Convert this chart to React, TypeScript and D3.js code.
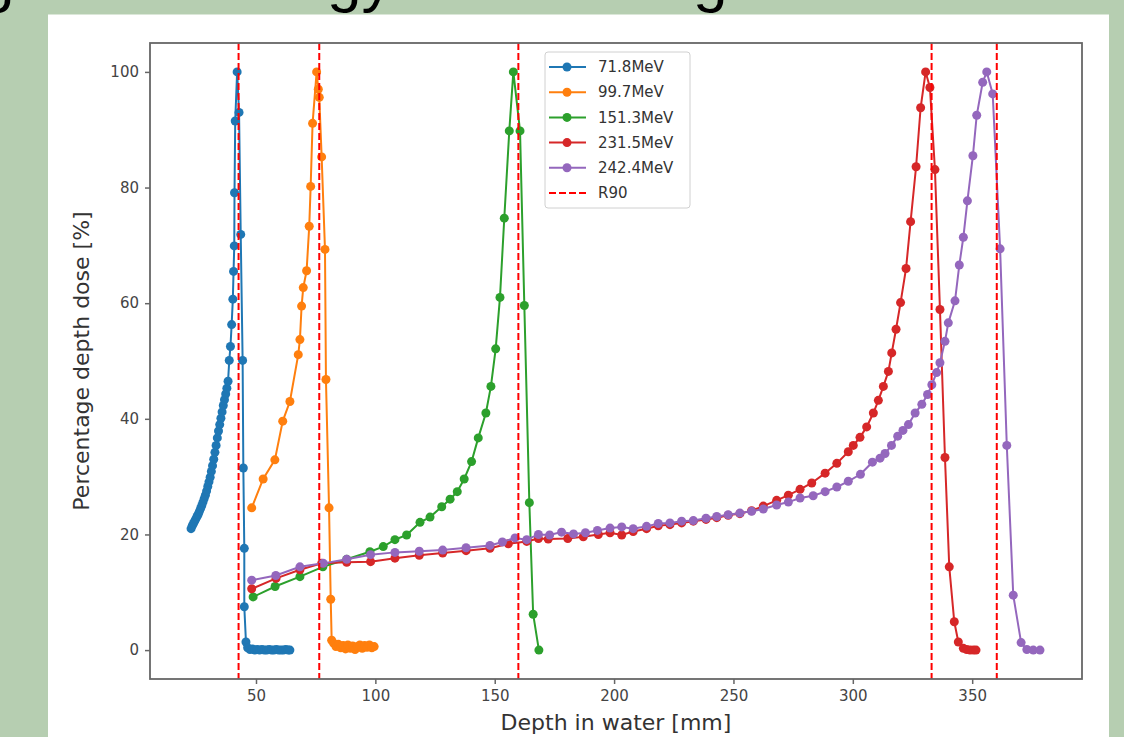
import React, {useEffect, useRef} from 'react'
import * as d3 from 'd3';

// depth [mm] / percentage depth dose [%]
const blueDepth = [22.8,23.3,23.8,24.3,24.8,25.3,25.8,26.3,26.8,27.3,27.8,28.3,28.8,29.3,29.8,30.3,30.8,31.3,31.8,32.3,32.8,33.3,33.8,34.3,34.8,35.3,35.8,36.3,36.8,37.3,37.8,38.3,38.8,39.3,39.8,40.3,40.6,40.9,41.0,41.3,42.1,42.9,43.6,44.4,44.7,45.1,45.1,45.8,46.5,47.5,48.5,49.5,50.5,51.5,52.5,53.5,54.5,55.5,56.5,57.5,58.5,59.5,60.5,61.5,62.5,63.5,64.2];
const blueDose = [21.0,21.5,21.9,22.3,22.7,23.1,23.5,24.0,24.5,25.0,25.6,26.2,26.8,27.5,28.3,29.1,29.9,30.9,31.9,33.0,34.2,35.4,36.7,37.9,39.0,40.1,41.2,42.3,43.3,44.3,45.3,46.5,50.1,52.5,56.3,60.7,65.5,69.9,79.1,91.5,100,93.0,71.9,50.1,31.5,17.6,7.5,1.4,0.4,0.1,0.2,0,0.1,0,0.1,0,0,0.1,0,0,0.1,0,0,0,0.1,0,0];

const orangeDepth = [48.2,53.0,57.9,61.2,64.2,67.7,68.4,69.1,69.8,71.2,72.3,72.9,73.7,75.4,76.1,76.5,77.5,78.9,79.3,80.6,81.3,81.7,82.5,83.5,84.5,85.5,86.5,87.5,88.5,89.5,90.5,91.5,92.5,93.5,94.5,95.5,96.5,97.5,98.5,99.5];
const orangeDose = [24.6,29.6,32.9,39.6,43.0,51.1,53.7,59.5,62.7,65.6,73.3,80.2,91.1,100,97.0,95.6,85.3,69.3,46.8,24.6,8.8,1.7,1.2,0.6,1.0,0.4,0.8,0.2,0.9,0.3,0.7,0.1,0.6,0.9,0.3,0.8,0.5,0.9,0.4,0.6];

const greenDepth = [48.8,58.0,68.4,78.0,88.0,97.7,103.3,108.2,113.1,118.7,122.9,127.8,131.3,134.3,137.2,140.3,143.1,146.3,148.4,150.4,152.2,154.0,156.1,157.8,160.6,162.4,164.5,166.1,168.5];
const greenDose = [9.2,11.0,12.7,14.4,15.7,17.0,17.9,19.1,19.9,22.1,23.0,24.8,26.1,27.4,29.6,32.6,36.7,41.0,45.6,52.1,61.0,74.7,89.8,100,89.8,59.6,25.5,6.2,0.0];

const redDepth = [48.2,58.4,68.4,77.5,88.0,98.0,108.2,118.4,128.2,138.0,148.0,155.7,163.4,168.3,172.4,180.6,187.1,193.4,198.3,203.2,208.0,213.6,218.5,223.4,228.3,233.2,238.5,243.0,247.8,252.7,257.6,262.5,268.1,273.0,277.9,282.8,288.4,293.3,298.1,300.2,303.0,305.8,308.6,310.7,312.8,314.9,316.3,318.1,320.0,322.3,324.2,326.5,328.4,330.5,332.3,334.4,336.5,338.6,340.4,342.5,344.2,346.3,347.7,349.1,350.5,351.6];
const redDose = [10.6,12.4,13.9,15.0,15.2,15.3,15.9,16.4,16.8,17.2,17.6,18.4,18.8,19.3,19.2,19.3,19.6,20.0,20.3,19.9,20.5,21.0,21.5,21.7,22.0,22.3,22.6,22.9,23.3,23.6,24.1,24.9,25.9,26.8,27.8,28.9,30.6,32.3,34.3,35.4,36.8,38.6,41.0,43.2,45.6,48.2,51.4,55.5,60.1,66.0,74.1,83.6,93.8,100,97.3,83.1,58.9,33.3,14.4,4.9,1.4,0.3,0.1,0,0,0];

const purpleDepth = [48.2,58.3,68.4,78.2,88.0,98.0,108.2,118.4,128.2,138.0,148.0,153.2,158.5,163.4,168.3,173.0,178.0,183.0,188.0,193.0,198.3,203.2,208.0,213.6,218.5,223.4,228.3,233.2,238.5,243.0,247.8,252.7,257.6,262.5,268.1,273.0,277.9,283.4,288.4,293.3,298.1,303.2,308.2,311.4,313.5,316.2,318.8,321.0,323.3,326.1,328.9,331.3,333.1,335.1,336.5,338.6,340.0,342.8,344.6,346.3,348.0,350.3,351.9,354.4,356.1,358.6,361.7,364.5,367.2,370.5,372.9,375.6,378.4];
const purpleDose = [12.1,12.9,14.4,15.0,15.7,16.5,16.9,17.1,17.3,17.7,18.1,18.7,19.4,19.1,20.0,19.9,20.4,20.1,20.3,20.7,21.1,21.3,21.0,21.4,21.9,22.0,22.3,22.4,22.8,23.1,23.4,23.7,24.0,24.4,25.1,25.6,26.3,26.7,27.4,28.2,29.2,30.4,32.5,33.2,34.0,35.4,37.0,38.0,39.0,41.0,42.5,44.2,45.9,48.0,49.7,53.4,56.6,60.4,66.6,71.4,77.7,85.5,92.5,98.2,100,96.2,69.4,35.4,9.5,1.3,0.1,0,0];

const seriesNames = ['71.8MeV', '99.7MeV', '151.3MeV', '231.5MeV', '242.4MeV'];
const seriesColors = ['#1f77b4', '#ff7f0e', '#2ca02c', '#d62728', '#9467bd'];
const r90Depth = [42.7, 76.5, 159.9, 333.0, 360.3];

const xTicks = [50, 100, 150, 200, 250, 300, 350];
const yTicks = [0, 20, 40, 60, 80, 100];

export default function App(){
    const svgRef = useRef(null);

    const W = 1124, H = 737;
    const margin = {top: 43, right: 42, left: 150, bottom: 58};
    const font = 'DejaVu Sans, sans-serif';

    useEffect(() => {
        const svg = d3.select(svgRef.current);
        svg.selectAll('*').remove();

        // slide background + white panel
        svg.append('rect').attr('width', W).attr('height', H).attr('fill', '#b6ceb1');
        // bottoms of the slide title, cut by the top edge
        const title = svg.append('g').attr('font-family', 'Liberation Sans, Arial, sans-serif')
            .attr('font-size', 62).attr('fill', '#000');
        title.append('text').attr('x', -20).attr('y', 0).text('g');
        title.append('text').attr('x', 327).attr('y', 0).text('gy');
        title.append('text').attr('x', 693).attr('y', 0).text('g');
        svg.append('rect').attr('x', 48).attr('y', 14.5).attr('width', 1061).attr('height', H - 14.5).attr('fill', '#fff');

        const x = d3.scaleLinear().domain([5.6, 396.0]).range([margin.left, W - margin.right]);
        const y = d3.scaleLinear().domain([-5, 105]).range([H - margin.bottom, margin.top]);

        const series = [
            [blueDepth, blueDose], [orangeDepth, orangeDose], [greenDepth, greenDose],
            [redDepth, redDose], [purpleDepth, purpleDose],
        ];

        const line = d3.line().x(d => x(d[0])).y(d => y(d[1]));
        const plot = svg.append('g');
        series.forEach(([dep, dose], i) => {
            const pts = dep.map((d, j) => [d, dose[j]]);
            plot.append('path').datum(pts).attr('d', line)
                .attr('fill', 'none').attr('stroke', seriesColors[i]).attr('stroke-width', 2);
            plot.append('g').selectAll('circle').data(pts).join('circle')
                .attr('cx', d => x(d[0])).attr('cy', d => y(d[1])).attr('r', 4.5)
                .attr('fill', seriesColors[i]);
        });

        // R90 markers
        plot.append('g').selectAll('line').data(r90Depth).join('line')
            .attr('x1', d => x(d)).attr('x2', d => x(d))
            .attr('y1', margin.top).attr('y2', H - margin.bottom)
            .attr('stroke', '#f00').attr('stroke-width', 2).attr('stroke-dasharray', '7,3');

        // frame
        svg.append('rect').attr('x', margin.left).attr('y', margin.top)
            .attr('width', W - margin.right - margin.left).attr('height', H - margin.bottom - margin.top)
            .attr('fill', 'none').attr('stroke', '#666').attr('stroke-width', 1.8);

        const xaxis = svg.append('g').attr('transform', `translate(0,${H - margin.bottom})`)
            .call(d3.axisBottom(x).tickValues(xTicks).tickSize(5).tickPadding(6));
        const yaxis = svg.append('g').attr('transform', `translate(${margin.left},0)`)
            .call(d3.axisLeft(y).tickValues(yTicks).tickSize(5).tickPadding(6));
        [xaxis, yaxis].forEach(a => {
            a.select('.domain').remove();
            a.selectAll('line').attr('stroke', '#666').attr('stroke-width', 1.5);
            a.selectAll('text').attr('font-family', font).attr('font-size', 15).attr('fill', '#444');
        });

        svg.append('text').attr('x', (margin.left + W - margin.right) / 2).attr('y', 730)
            .attr('text-anchor', 'middle').attr('font-family', font).attr('font-size', 22)
            .attr('fill', '#333').text('Depth in water [mm]');
        svg.append('text').attr('transform', `translate(89,${(margin.top + H - margin.bottom) / 2}) rotate(-90)`)
            .attr('text-anchor', 'middle').attr('font-family', font).attr('font-size', 22)
            .attr('fill', '#333').text('Percentage depth dose [%]');

        // legend
        const lg = svg.append('g');
        lg.append('rect').attr('x', 545).attr('y', 52).attr('width', 145).attr('height', 156).attr('rx', 3)
            .attr('fill', '#fff').attr('fill-opacity', 0.85).attr('stroke', '#d0d0d0');
        const entries = [...seriesNames, 'R90'];
        entries.forEach((name, i) => {
            const cy = 67 + i * 25.2;
            const isR90 = i === seriesNames.length;
            lg.append('line').attr('x1', 549).attr('x2', 586).attr('y1', cy).attr('y2', cy)
                .attr('stroke', isR90 ? '#f00' : seriesColors[i]).attr('stroke-width', 2)
                .attr('stroke-dasharray', isR90 ? '7,3' : null);
            if (!isR90) lg.append('circle').attr('cx', 567).attr('cy', cy).attr('r', 4.5).attr('fill', seriesColors[i]);
            lg.append('text').attr('x', 598).attr('y', cy).attr('dy', '0.35em')
                .attr('font-family', font).attr('font-size', 15).attr('fill', '#333').text(name);
        });
    }, []);

    return (
        <svg ref={svgRef} width={W} height={H}
            style={{position: 'absolute', left: 0, top: 0, display: 'block'}}>
        </svg>
    );
}
